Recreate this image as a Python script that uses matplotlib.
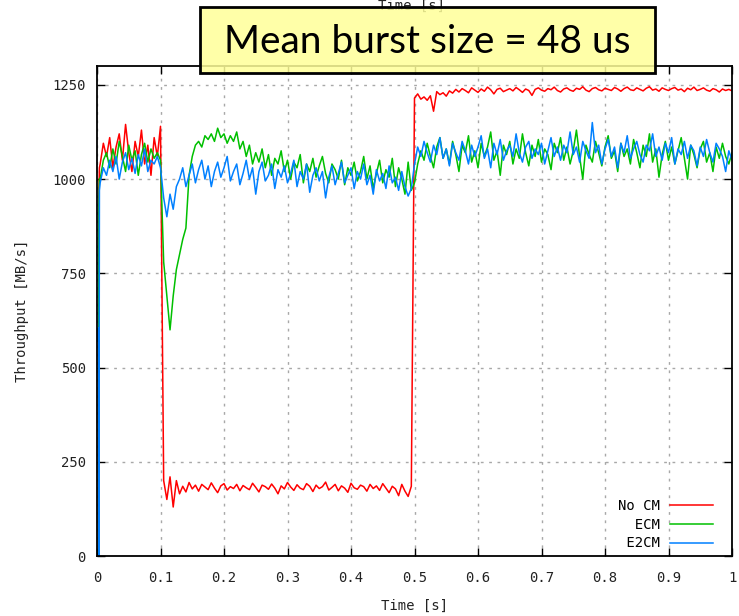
import numpy as np
import matplotlib.pyplot as plt
from matplotlib.patches import Rectangle

# sample times: a few points at the very start, then every 5 ms
t_head = [0.0015, 0.0022, 0.003, 0.0038]
t_main = np.round(np.arange(0.005, 1.0001, 0.005), 3)
t = np.concatenate([t_head, t_main])

# No CM (red)
nocm_head = [10, 10, 960, 1030]
nocm_pre = [1040, 1095, 1060, 1110, 1030, 1085, 1120, 1050, 1145, 1070,
            1020, 1100, 1060, 1130, 1040, 1090, 1010, 1110, 1060, 1140]
nocm_drop = [200, 150, 210, 130, 200, 165]
nocm_low = [185, 170, 195, 178, 188, 172, 190, 183, 176, 194, 180, 168, 186, 192, 175, 184, 179, 190, 173, 187,
            181, 176, 193, 182, 170, 188, 184, 177, 191, 180, 165, 186, 178, 195, 183, 174, 189, 180, 176, 192,
            185, 171, 188, 179, 184, 196, 175, 182, 190, 173, 186, 180, 169, 193, 181, 177, 188, 184, 172, 190,
            179, 186, 174, 192, 180, 168, 185, 178, 160, 190, 172, 158, 185]
nocm_high = [1215, 1226, 1212, 1218, 1209, 1221, 1180, 1232, 1224, 1229, 1220,
             1234, 1228, 1238, 1231, 1240, 1235, 1229, 1242, 1236, 1230,
             1239, 1233, 1244, 1237, 1226, 1238, 1241, 1232, 1236, 1240,
             1234, 1243, 1237, 1230, 1239, 1235, 1222, 1238, 1242, 1236,
             1233, 1240, 1237, 1244, 1235, 1231, 1239, 1242, 1236, 1233,
             1241, 1238, 1245, 1236, 1232, 1240, 1243, 1237, 1234, 1241,
             1238, 1235, 1243, 1239, 1233, 1240, 1244, 1237, 1235, 1242,
             1238, 1234, 1241, 1245, 1236, 1239, 1233, 1242, 1238, 1235,
             1240, 1243, 1236, 1239, 1232, 1241, 1237, 1244, 1235, 1238,
             1242, 1236, 1233, 1240, 1237, 1231, 1239, 1235, 1238, 1234]

# ECM (green)
ecm_head = [10, 10, 930, 1000]
ecm_pre = [1000, 1050, 1070, 1030, 1080, 1040, 1100, 1060, 1020, 1090,
           1050, 1075, 1010, 1065, 1095, 1045, 1080, 1055, 1070, 1050]
ecm_dip = [780, 690, 600, 690, 760, 800, 840, 870, 1010, 1060,
           1090, 1100, 1085, 1115, 1105, 1120, 1100, 1135, 1110, 1120,
           1095, 1115, 1100, 1125, 1080, 1100, 1060, 1090, 1040, 1070]
ecm_mid = [1045, 1080, 1030, 1065, 1010, 1055, 1040, 1075, 1020, 1050,
           1000, 1045, 1030, 1065, 990, 1040, 1020, 1055, 1005, 1035,
           1060, 1015, 990, 1040, 1025, 1000, 1050, 985, 1030, 1010,
           1045, 995, 1020, 1060, 1000, 1035, 975, 1015, 1050, 990,
           1025, 1005, 1055, 980, 1030, 1000, 960, 1045, 970]
ecm_post = [990, 1040, 1075, 1050, 1095, 1060, 1030, 1085, 1110, 1055,
            1080, 1040, 1100, 1065, 1020, 1090, 1070, 1115, 1045, 1075,
            1030, 1095, 1060, 1085, 1125, 1050, 1075, 1010, 1090, 1065,
            1100, 1040, 1080, 1055, 1120, 1070, 1035, 1090, 1060, 1105,
            1045, 1080, 1065, 1025, 1095, 1070, 1110, 1050, 1085, 1040,
            1075, 1130, 1060, 1000, 1090, 1065, 1045, 1100, 1070, 1035,
            1085, 1115, 1055, 1075, 1020, 1095, 1060, 1080, 1040, 1105,
            1070, 1030, 1090, 1060, 1120, 1045, 1080, 1005, 1065, 1100,
            1050, 1085, 1040, 1075, 1110, 1055, 1000, 1090, 1065, 1030,
            1080, 1100, 1045, 1070, 1020, 1085, 1055, 1095, 1060, 1040,
            1070]

# E2CM (blue)
e2cm_head = [570, 605, 0, 970]
e2cm_pre = [990, 1030, 1010, 1050, 1020, 1060, 1000, 1045, 1070, 1025,
            1055, 1015, 1065, 1035, 1080, 1020, 1050, 1040, 1060, 1030]
e2cm_dip = [950, 900, 960, 920, 980, 1000, 1030, 980]
e2cm_mid = [1010, 1040, 990, 1025, 1050, 1000, 1035, 980, 1020, 1045,
            1005, 1030, 1060, 995, 1020, 1040, 985, 1015, 1050, 1000,
            1030, 960, 1020, 1045, 995, 1010, 1040, 975, 1025, 1005,
            1035, 990, 1015, 1050, 980, 1020, 1000, 1040, 965, 1010,
            1030, 995, 1020, 950, 1005, 1035, 985, 1015, 1045, 990,
            1010, 1030, 975, 1020, 1000, 1040, 985, 1010, 960, 1025,
            995, 1015, 975, 1035, 990, 1005, 970, 1020, 980, 955,
            975]
e2cm_post = [1040, 1085, 1060, 1100, 1070, 1045, 1090, 1065, 1110, 1055,
             1080, 1035, 1095, 1070, 1050, 1100, 1075, 1040, 1090, 1060,
             1085, 1115, 1055, 1080, 1030, 1095, 1065, 1105, 1050, 1075,
             1090, 1060, 1120, 1070, 1045, 1085, 1100, 1055, 1080, 1065,
             1095, 1040, 1075, 1110, 1060, 1085, 1050, 1090, 1070, 1125,
             1065, 1085, 1045, 1100, 1075, 1055, 1150, 1070, 1090, 1040,
             1080, 1105, 1060, 1085, 1030, 1095, 1070, 1115, 1055, 1080,
             1100, 1065, 1045, 1090, 1075, 1120, 1060, 1085, 1050, 1095,
             1070, 1110, 1040, 1080, 1065, 1100, 1055, 1090, 1075, 1035,
             1085, 1060, 1105, 1070, 1045, 1095, 1080, 1060, 1020, 1075,
             1050]

nocm = nocm_head + nocm_pre + nocm_drop + nocm_low + nocm_high
ecm = ecm_head + ecm_pre + ecm_dip + ecm_mid + ecm_post
e2cm = e2cm_head + e2cm_pre + e2cm_dip + e2cm_mid + e2cm_post

xticks = [0, 0.1, 0.2, 0.3, 0.4, 0.5, 0.6, 0.7, 0.8, 0.9, 1]
xticklabels = ['0', '0.1', '0.2', '0.3', '0.4', '0.5', '0.6', '0.7', '0.8', '0.9', '1']
yticks = [0, 250, 500, 750, 1000, 1250]

mono = 'DejaVu Sans Mono'

fig = plt.figure(figsize=(7.39, 6.16), dpi=100)
ax = fig.add_axes([97 / 739, 1 - 556 / 616, 635 / 739, 490 / 616])

ax.plot(t, nocm, color='#ff0000', lw=1.1, label='No CM')
ax.plot(t, ecm, color='#00c000', lw=1.1, label='  ECM')
ax.plot(t, e2cm, color='#0080ff', lw=1.1, label=' E2CM')

ax.set_xlim(0, 1)
ax.set_ylim(0, 1300)
ax.set_xticks(xticks)
ax.set_xticklabels(xticklabels)
ax.set_yticks(yticks)
ax.tick_params(direction='in', top=True, right=True, length=6, width=1,
               labelsize=10, pad=8)
ax.tick_params(axis='x', pad=11)
for lab in ax.get_xticklabels() + ax.get_yticklabels():
    lab.set_family(mono)
    lab.set_color('#222222')
for sp in ax.spines.values():
    sp.set_linewidth(1.3)

ax.grid(True, color='#a8a8a8', linestyle=(0, (2, 4)), linewidth=1)

ax.set_xlabel('Time [s]', family=mono, fontsize=10, labelpad=10, color='#222222')
ax.set_ylabel('Throughput [MB/s]', family=mono, fontsize=10, labelpad=17, color='#222222')

leg = ax.legend(loc='lower right', bbox_to_anchor=(1 - 13.4 / 635, 0),
                frameon=False, markerfirst=False,
                prop={'family': mono, 'size': 10}, handlelength=3.1,
                handletextpad=0.7, labelspacing=0.35, borderaxespad=0)

# duplicated label on top, mostly hidden by the box
fig.text(412 / 739, 1 - 6 / 616, 'Time [s]', family=mono, fontsize=10,
         ha='center', va='center', color='#222222', zorder=0.5)

box = Rectangle((200 / 739, 1 - 73 / 616), 455 / 739, 66 / 616,
                transform=fig.transFigure, facecolor=(1, 1, 0.6, 0.85),
                edgecolor='black', linewidth=2, zorder=5)
fig.add_artist(box)
fig.text(427 / 739, 1 - 42 / 616, 'Mean burst size = 48 us', family='Lato',
         fontsize=28, ha='center', va='center', color='black', zorder=6)

fig.savefig('out.png', dpi=100)
